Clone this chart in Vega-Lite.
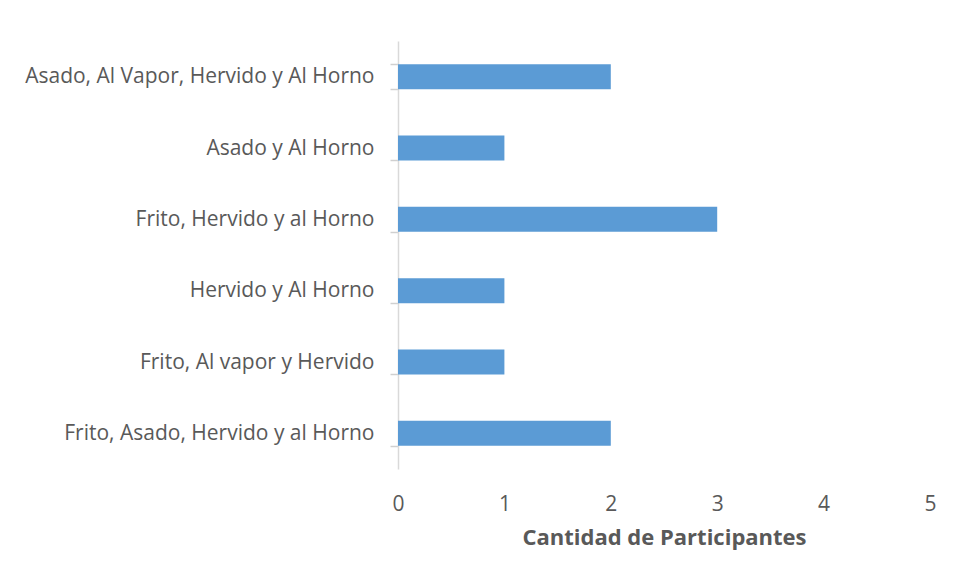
{
  "$schema": "https://vega.github.io/schema/vega-lite/v6.json",
  "width": 532,
  "height": 428,
  "autosize": {"type": "none"},
  "padding": {"left": 398, "top": 41, "right": 25, "bottom": 110},
  "background": "white",
  "config": {"view": {"stroke": null}, "font": "Open Sans"},
  "data": {
    "values": [
      {"metodo": "Asado, Al Vapor, Hervido y Al Horno", "cantidad": 2},
      {"metodo": "Asado y Al Horno", "cantidad": 1},
      {"metodo": "Frito, Hervido y al Horno", "cantidad": 3},
      {"metodo": "Hervido y Al Horno", "cantidad": 1},
      {"metodo": "Frito, Al vapor y Hervido", "cantidad": 1},
      {"metodo": "Frito, Asado, Hervido y al Horno", "cantidad": 2}
    ]
  },
  "mark": {"type": "bar", "color": "#5b9bd5"},
  "encoding": {
    "y": {
      "field": "metodo",
      "type": "nominal",
      "sort": null,
      "scale": {"paddingInner": 0.65, "paddingOuter": 0.325},
      "axis": {
        "title": null,
        "domainColor": "#d9d9d9",
        "domainWidth": 1.5,
        "tickColor": "#d0d0d0",
        "tickWidth": 1.5,
        "tickSize": 8,
        "tickBand": "extent",
        "labelPadding": 16,
        "labelFontSize": 21,
        "labelColor": "#595959",
        "labelFont": "Open Sans",
        "labelLimit": 400
      }
    },
    "x": {
      "field": "cantidad",
      "type": "quantitative",
      "scale": {"domain": [0, 5]},
      "axis": {
        "title": "Cantidad de Participantes",
        "titleFontSize": 22,
        "titleFontWeight": "bold",
        "titleColor": "#595959",
        "titleFont": "Open Sans",
        "titlePadding": 13,
        "domain": false,
        "ticks": false,
        "grid": false,
        "tickCount": 5,
        "labelFlush": false,
        "labelPadding": 24,
        "labelFontSize": 21,
        "labelColor": "#595959",
        "labelFont": "Open Sans"
      }
    }
  }
}
